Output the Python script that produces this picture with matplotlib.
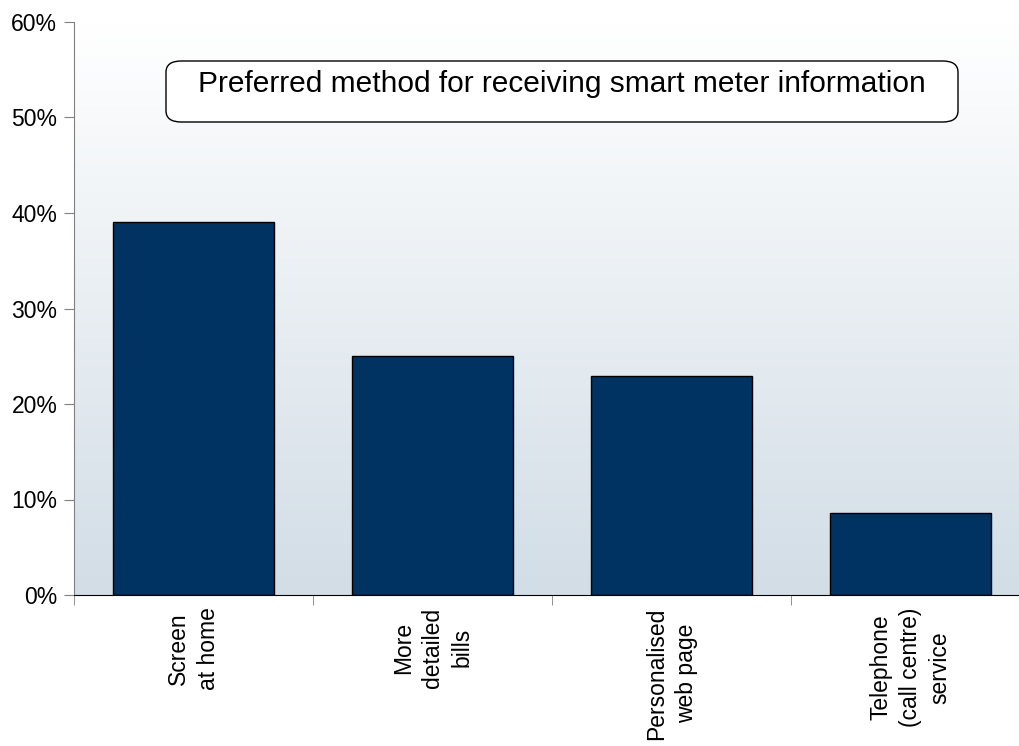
import matplotlib
matplotlib.use("Agg")
import matplotlib.pyplot as plt
import numpy as np
from matplotlib.colors import LinearSegmentedColormap
from matplotlib.patches import FancyBboxPatch
from matplotlib.ticker import FixedLocator, PercentFormatter

plt.rcParams['font.family'] = ['Liberation Sans', 'DejaVu Sans']

categories = ["Screen\nat home", "More\ndetailed\nbills", "Personalised\nweb page",
              "Telephone\n(call centre)\nservice"]
shares = [39.1, 25.0, 22.9, 8.6]
title = "Preferred method for receiving smart meter information"

fig = plt.figure(figsize=(10.2, 7.46), dpi=100)
ax = fig.add_axes([74 / 1020, 151 / 746, 956 / 1020, 573 / 746])

x = np.arange(len(categories))
ax.set_xlim(-0.5, len(categories) - 0.5)
ax.set_ylim(0, 60)

# vertical background gradient, white at the top fading to pale blue-grey
grad = LinearSegmentedColormap.from_list("bg", ["#d2dde6", "#ffffff"])
ax.imshow(np.linspace(0, 1, 256).reshape(-1, 1), cmap=grad, origin="lower",
          extent=(-0.5, len(categories) - 0.5, 0, 60), aspect="auto", zorder=0)

ax.bar(x, shares, width=0.67, color="#003262", edgecolor="black",
       linewidth=1.0, zorder=2)

ax.spines["top"].set_visible(False)
ax.spines["right"].set_visible(False)
ax.spines["left"].set_color("#808080")
ax.spines["bottom"].set_color("black")

ax.set_yticks(np.arange(0, 61, 10))
ax.yaxis.set_major_formatter(PercentFormatter(decimals=0))
ax.tick_params(axis="y", direction="out", length=7, color="#808080",
               labelsize=16.5, pad=5)

ax.set_xticks(x)
ax.set_xticklabels(categories, rotation=90, fontsize=16.5, ha="center",
                   va="top", multialignment="center", linespacing=1.35)
ax.tick_params(axis="x", which="major", length=0, pad=9)
ax.xaxis.set_minor_locator(FixedLocator(np.arange(-0.5, len(categories), 1.0)))
ax.tick_params(axis="x", which="minor", direction="out", length=7,
               color="#808080")

# rounded title box inside the plot area
box = FancyBboxPatch((166 / 1020, 1 - 122 / 746), (958 - 166) / 1020,
                     (122 - 61) / 746, boxstyle="round,pad=0,rounding_size=0.015",
                     transform=fig.transFigure, facecolor="white",
                     edgecolor="black", linewidth=1.0, zorder=5)
fig.patches.append(box)
fig.text(562 / 1020, 1 - 84 / 746, title, ha="center", va="center",
         fontsize=21.5, zorder=6)

fig.savefig("out.png", dpi=100)
